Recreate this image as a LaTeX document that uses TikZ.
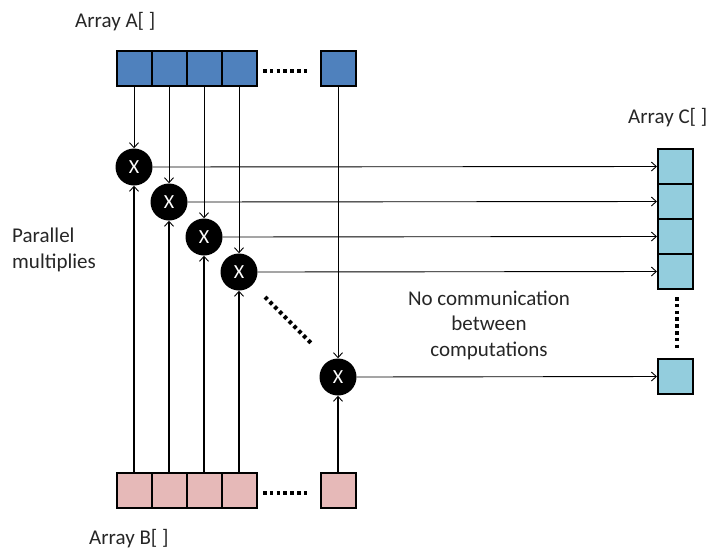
\documentclass[tikz,border=0pt]{standalone}
\usepackage{fontspec}
\setmainfont{Carlito}
\usetikzlibrary{arrows.meta}
\definecolor{ablue}{HTML}{4F81BD}
\definecolor{bpink}{HTML}{E6B9B8}
\definecolor{ccyan}{HTML}{93CDDD}
\tikzset{
  cell/.style={draw=black, line width=2pt, minimum size=35pt, inner sep=0pt},
  acell/.style={cell, fill=ablue},
  bcell/.style={cell, fill=bpink},
  ccell/.style={cell, fill=ccyan},
  mult/.style={circle, fill=black, minimum size=37pt, inner sep=0pt, text=white, font=\fontsize{20}{20}\selectfont},
  tip/.style={-{Straight Barb[length=5pt,width=9pt,line width=0.9pt]}},
  downarr/.style={tip, line width=0.9pt},
  uparr/.style={tip, line width=1.4pt},
  rightarr/.style={tip, line width=0.9pt},
  dotline/.style={line width=4pt, dash pattern=on 3.5pt off 3.3pt},
  lbl/.style={font=\fontsize{21}{25.5}\selectfont, inner sep=0pt, text=black!85},
}
\begin{document}
\begin{tikzpicture}[x=1pt,y=-1pt]
\useasboundingbox (0,0) rectangle (709,550);
% Array A
\node[acell] (A1) at (134,68) {};
\node[acell] (A2) at (169,68) {};
\node[acell] (A3) at (204,68) {};
\node[acell] (A4) at (239,68) {};
\node[acell] (A5) at (338,68) {};
% Array B
\node[bcell] (B1) at (134,490) {};
\node[bcell] (B2) at (169,490) {};
\node[bcell] (B3) at (204,490) {};
\node[bcell] (B4) at (239,490) {};
\node[bcell] (B5) at (338,490) {};
% Array C
\node[ccell] (C1) at (675.5,166.5) {};
\node[ccell] (C2) at (675.5,201.5) {};
\node[ccell] (C3) at (675.5,236.5) {};
\node[ccell] (C4) at (675.5,271.5) {};
\node[ccell] (C5) at (675.5,376.5) {};
% multipliers
\node[mult] (M1) at (134,167) {X};
\node[mult] (M2) at (169,202) {X};
\node[mult] (M3) at (204,237) {X};
\node[mult] (M4) at (239,272) {X};
\node[mult] (M5) at (338,377) {X};
% arrows
\foreach \i in {1,...,5}{
  \draw[downarr] (A\i.south) -- (M\i.north);
  \draw[uparr] (B\i.north) -- (M\i.south);
  \draw[rightarr] (M\i.east) -- (C\i.west);
}
% dots
\draw[dotline] (263,71) -- (310,71);
\draw[dotline] (263,493) -- (310,493);
\draw[dotline] (677,297) -- (677,348);
\draw[dotline] (265,297) -- (311,343);
% labels
\node[lbl, anchor=base west] (LA) at (75,27) {Array A[ ]};
\node[lbl, anchor=base west] (LC) at (628,123) {Array C[ ]};
\node[lbl, anchor=base west] (LB) at (89,544) {Array B[ ]};
\node[lbl, anchor=base west, align=left] (LP) at (12,268) {Parallel\\multiplies};
\node[lbl, anchor=base, align=center] (LN) at (489,356) {No communication\\between\\computations};
\end{tikzpicture}
\end{document}
